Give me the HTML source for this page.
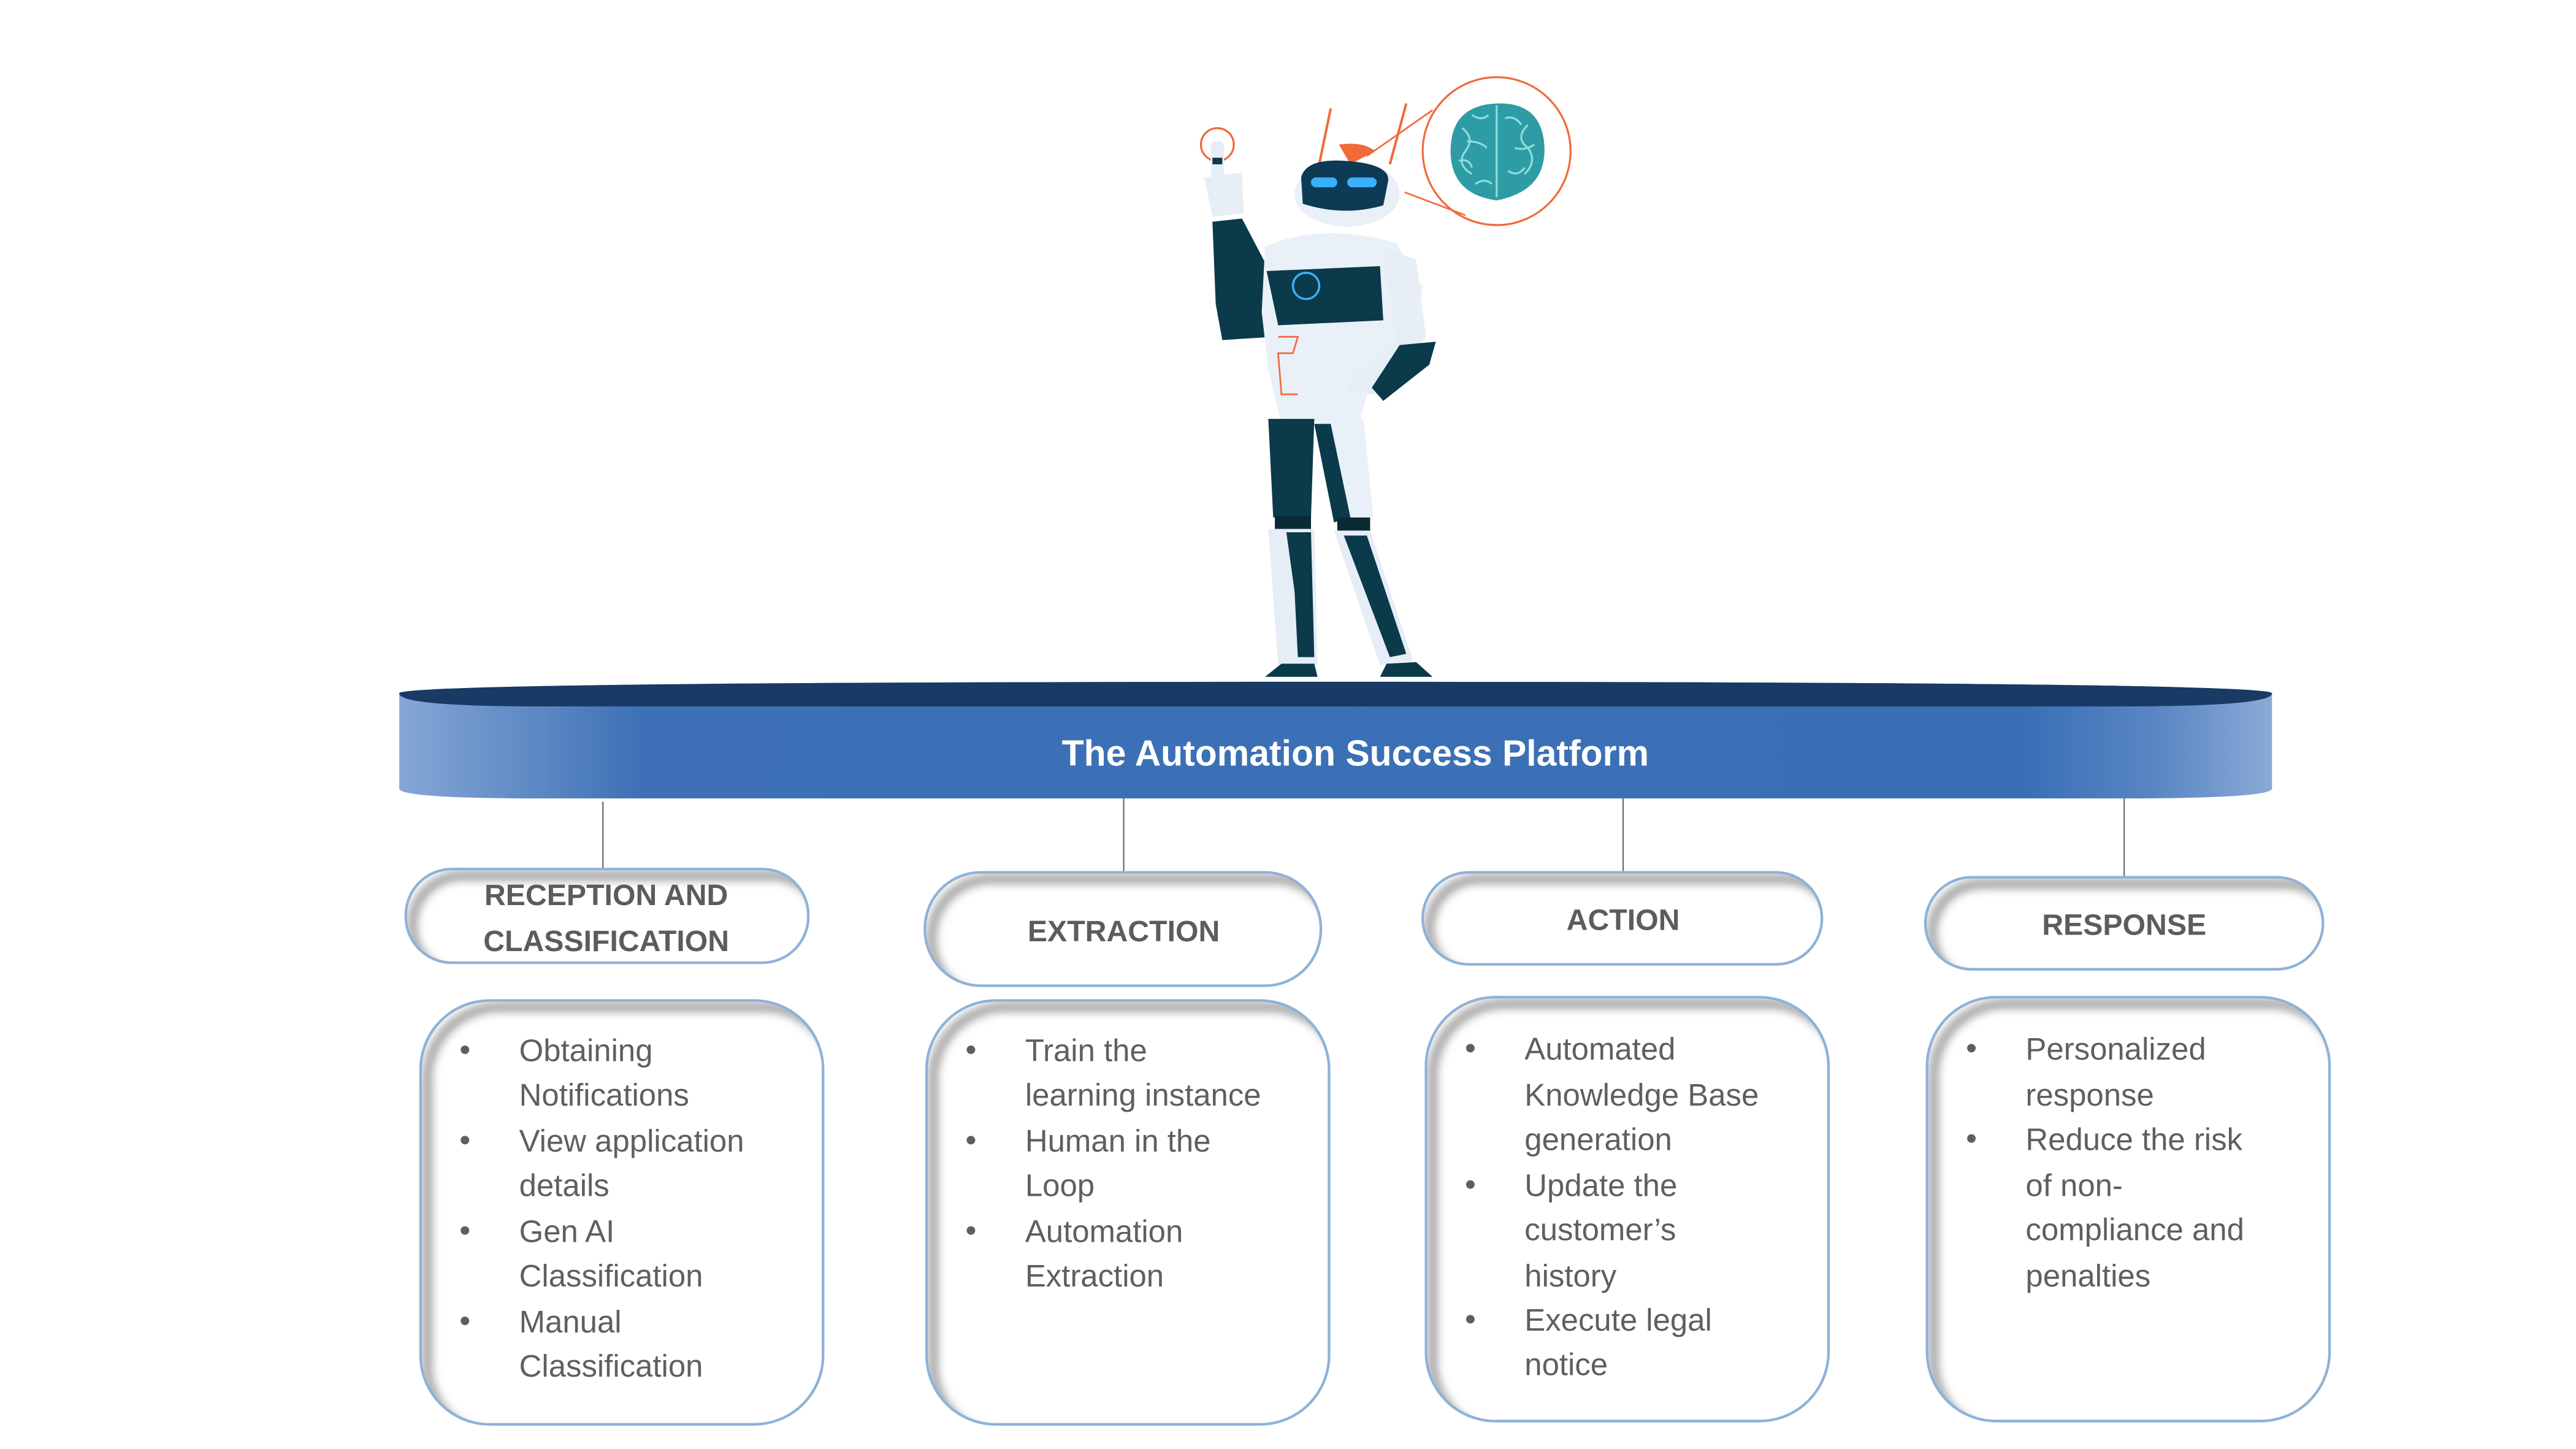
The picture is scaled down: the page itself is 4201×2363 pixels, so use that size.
<!DOCTYPE html>
<html><head><meta charset="utf-8"><style>
html,body{margin:0;padding:0;background:#fff;}
svg{display:block;}
</style></head><body>
<svg width="4201" height="2363" viewBox="0 0 1568 882" xmlns="http://www.w3.org/2000/svg">
<defs>
<linearGradient id="band" x1="0" x2="1" y1="0" y2="0">
<stop offset="0" stop-color="#85a7d5"/>
<stop offset="0.13" stop-color="#3d70b6"/>
<stop offset="0.87" stop-color="#3a6fb6"/>
<stop offset="0.94" stop-color="#5b87c4"/>
<stop offset="1" stop-color="#8aaad6"/>
</linearGradient>
<filter id="blur" x="-10%" y="-10%" width="120%" height="120%"><feGaussianBlur stdDeviation="3"/></filter>
<clipPath id="c1"><rect x="247" y="529" width="245" height="57" rx="28"/></clipPath>
<clipPath id="c2"><rect x="563" y="531" width="241" height="69" rx="34"/></clipPath>
<clipPath id="c3"><rect x="866" y="531" width="243" height="56" rx="28"/></clipPath>
<clipPath id="c4"><rect x="1172" y="534" width="242" height="56" rx="28"/></clipPath>
<clipPath id="b1"><rect x="256" y="609" width="245" height="258" rx="42"/></clipPath>
<clipPath id="b2"><rect x="564" y="609" width="245" height="258" rx="42"/></clipPath>
<clipPath id="b3"><rect x="868" y="607" width="245" height="258" rx="42"/></clipPath>
<clipPath id="b4"><rect x="1173" y="607" width="245" height="258" rx="42"/></clipPath>
</defs>

<path d="M243 422 Q243 415 813 415 Q1383 415 1383 422 L1383 480 Q1383 486 1290 486 L330 486 Q243 486 243 480 Z" fill="url(#band)"/>
<path d="M243 422 Q243 415 813 415 Q1383 415 1383 422 Q1383 430 1290 430 L330 430 Q243 430 243 422 Z" fill="#183a64"/>
<text x="825" y="466" text-anchor="middle" font-family="Liberation Sans, sans-serif" font-weight="bold" font-size="22" fill="#fff">The Automation Success Platform</text>

<g stroke="#666" stroke-width="0.8">
<line x1="367" y1="488" x2="367" y2="529"/>
<line x1="684" y1="486" x2="684" y2="531"/>
<line x1="988" y1="486" x2="988" y2="531"/>
<line x1="1293" y1="486" x2="1293" y2="534"/>
</g>

<g font-family="Liberation Sans, sans-serif" font-weight="bold" font-size="18" fill="#5c5c5c" text-anchor="middle">
<rect x="247" y="529" width="245" height="57" rx="28" fill="#fff"/>
<g clip-path="url(#c1)"><rect x="251" y="533" width="249" height="61" rx="30" fill="none" stroke="#777" stroke-width="4" filter="url(#blur)"/></g>
<rect x="247" y="529" width="245" height="57" rx="28" fill="none" stroke="#8db2d8" stroke-width="1.6"/>
<text x="369" y="551">RECEPTION AND</text><text x="369" y="579">CLASSIFICATION</text>

<rect x="563" y="531" width="241" height="69" rx="34" fill="#fff"/>
<g clip-path="url(#c2)"><rect x="567" y="535" width="245" height="73" rx="36" fill="none" stroke="#777" stroke-width="4" filter="url(#blur)"/></g>
<rect x="563" y="531" width="241" height="69" rx="34" fill="none" stroke="#8db2d8" stroke-width="1.6"/>
<text x="684" y="573">EXTRACTION</text>

<rect x="866" y="531" width="243" height="56" rx="28" fill="#fff"/>
<g clip-path="url(#c3)"><rect x="870" y="535" width="247" height="60" rx="30" fill="none" stroke="#777" stroke-width="4" filter="url(#blur)"/></g>
<rect x="866" y="531" width="243" height="56" rx="28" fill="none" stroke="#8db2d8" stroke-width="1.6"/>
<text x="988" y="566">ACTION</text>

<rect x="1172" y="534" width="242" height="56" rx="28" fill="#fff"/>
<g clip-path="url(#c4)"><rect x="1176" y="538" width="246" height="60" rx="30" fill="none" stroke="#777" stroke-width="4" filter="url(#blur)"/></g>
<rect x="1172" y="534" width="242" height="56" rx="28" fill="none" stroke="#8db2d8" stroke-width="1.6"/>
<text x="1293" y="569">RESPONSE</text>
</g>

<g>
<rect x="256" y="609" width="245" height="258" rx="42" fill="#fff"/>
<g clip-path="url(#b1)"><rect x="260" y="613" width="249" height="262" rx="44" fill="none" stroke="#777" stroke-width="4" filter="url(#blur)"/></g>
<rect x="256" y="609" width="245" height="258" rx="42" fill="none" stroke="#8db2d8" stroke-width="1.6"/>
<rect x="564" y="609" width="245" height="258" rx="42" fill="#fff"/>
<g clip-path="url(#b2)"><rect x="568" y="613" width="249" height="262" rx="44" fill="none" stroke="#777" stroke-width="4" filter="url(#blur)"/></g>
<rect x="564" y="609" width="245" height="258" rx="42" fill="none" stroke="#8db2d8" stroke-width="1.6"/>
<rect x="868" y="607" width="245" height="258" rx="42" fill="#fff"/>
<g clip-path="url(#b3)"><rect x="872" y="611" width="249" height="262" rx="44" fill="none" stroke="#777" stroke-width="4" filter="url(#blur)"/></g>
<rect x="868" y="607" width="245" height="258" rx="42" fill="none" stroke="#8db2d8" stroke-width="1.6"/>
<rect x="1173" y="607" width="245" height="258" rx="42" fill="#fff"/>
<g clip-path="url(#b4)"><rect x="1177" y="611" width="249" height="262" rx="44" fill="none" stroke="#777" stroke-width="4" filter="url(#blur)"/></g>
<rect x="1173" y="607" width="245" height="258" rx="42" fill="none" stroke="#8db2d8" stroke-width="1.6"/>
</g>

<g fill="#5f5f5f">
<circle cx="283" cy="639" r="2.6"/><circle cx="283" cy="694" r="2.6"/><circle cx="283" cy="749" r="2.6"/><circle cx="283" cy="804" r="2.6"/>
<circle cx="591" cy="639" r="2.6"/><circle cx="591" cy="694" r="2.6"/><circle cx="591" cy="749" r="2.6"/>
<circle cx="895" cy="638" r="2.6"/><circle cx="895" cy="721" r="2.6"/><circle cx="895" cy="803" r="2.6"/>
<circle cx="1200" cy="638" r="2.6"/><circle cx="1200" cy="693" r="2.6"/>
</g>
<g font-family="Liberation Sans, sans-serif" font-size="19" fill="#5f5f5f">
<text x="316" y="646">Obtaining</text><text x="316" y="673">Notifications</text>
<text x="316" y="701">View application</text><text x="316" y="728">details</text>
<text x="316" y="756">Gen AI</text><text x="316" y="783">Classification</text>
<text x="316" y="811">Manual</text><text x="316" y="838">Classification</text>
<text x="624" y="646">Train the</text><text x="624" y="673">learning instance</text>
<text x="624" y="701">Human in the</text><text x="624" y="728">Loop</text>
<text x="624" y="756">Automation</text><text x="624" y="783">Extraction</text>
<text x="928" y="645">Automated</text><text x="928" y="673">Knowledge Base</text><text x="928" y="700">generation</text>
<text x="928" y="728">Update the</text><text x="928" y="755">customer’s</text><text x="928" y="783">history</text>
<text x="928" y="810">Execute legal</text><text x="928" y="837">notice</text>
<text x="1233" y="645">Personalized</text><text x="1233" y="673">response</text>
<text x="1233" y="700">Reduce the risk</text><text x="1233" y="728">of non-</text><text x="1233" y="755">compliance and</text><text x="1233" y="783">penalties</text>
</g>

<g>
<circle cx="911" cy="92" r="45" fill="none" stroke="#f06a3a" stroke-width="1.2"/>
<line x1="832" y1="95" x2="872" y2="67" stroke="#f06a3a" stroke-width="1"/>
<line x1="855" y1="117" x2="892" y2="131" stroke="#f06a3a" stroke-width="1"/>
<path d="M911 63 Q938 62 940 88 Q942 116 911 122 Q882 118 883 90 Q884 64 911 63 Z" fill="#2e9ca4"/>
<path d="M911 64 L911 120 M890 78 q8 6 2 14 q-6 8 4 14 M930 76 q-8 8 0 14 q6 8 -2 16 M896 70 q6 4 10 0 M918 104 q6 4 10 -2 M888 98 q6 -2 8 4 M916 72 q6 -2 10 4 M898 112 q6 -4 10 0 M922 90 q6 2 12 -2 M893 86 q8 0 12 4" stroke="#8edcdb" stroke-width="1.2" fill="none"/>
<circle cx="741" cy="88" r="10" fill="none" stroke="#f06a3a" stroke-width="1.2"/>
<line x1="803" y1="100" x2="810" y2="66" stroke="#f06a3a" stroke-width="1.5"/>
<line x1="846" y1="100" x2="856" y2="63" stroke="#f06a3a" stroke-width="1.5"/>
<rect x="737" y="86" width="8" height="22" rx="3" fill="#e6edf6"/>
<rect x="738" y="96" width="6" height="4" fill="#0d3a48"/>
<path d="M733 108 L756 105 L757 130 L738 132 Z" fill="#e8eef6"/>
<path d="M738 135 L756 133 L778 175 L775 205 L744 207 L740 185 Z" fill="#0b3a4a"/>
<path d="M770 150 Q805 135 850 148 L866 175 L860 205 L835 230 L828 255 L780 258 L772 225 L768 190 Z" fill="#eaf0f8"/>
<path d="M771 165 L840 162 L842 195 L778 198 Z" fill="#0b3a4a"/>
<circle cx="795" cy="174" r="8" fill="none" stroke="#3ab0ff" stroke-width="1.3"/>
<path d="M778 205 L790 205 L787 215 L778 215 L780 240 L790 240" stroke="#f06a3a" stroke-width="1" fill="none"/>
<path d="M840 150 L862 158 L868 205 L840 240 L820 240 L822 228 L850 208 L845 175 Z" fill="#e8eef6"/>
<path d="M852 210 L874 208 L870 222 L842 244 L835 236 Z" fill="#0b3a4a"/>
<ellipse cx="820" cy="118" rx="32" ry="20" fill="#eaf0f8"/>
<path d="M815 88 Q830 86 837 92 L822 100 Z" fill="#f06a3a"/>
<path d="M792 108 Q795 96 820 98 Q846 100 845 110 L842 125 Q818 132 793 124 Z" fill="#0d3a55"/>
<rect x="798" y="108" width="16" height="6" rx="3" fill="#3ab0ff"/>
<rect x="820" y="108" width="18" height="6" rx="3" fill="#3ab0ff"/>
<path d="M772 255 L800 255 L798 315 L775 315 Z" fill="#0b3a4a"/>
<path d="M803 255 L830 255 L836 315 L815 318 Z" fill="#eaf0f8"/>
<path d="M800 258 L810 258 L822 315 L812 318 Z" fill="#0b3a4a"/>
<rect x="776" y="314" width="22" height="8" fill="#0a2a35"/>
<rect x="814" y="315" width="20" height="8" fill="#0a2a35"/>
<path d="M772 322 L800 322 L802 405 L778 405 Z" fill="#e6edf6"/>
<path d="M783 324 L798 324 L800 400 L790 400 L788 360 Z" fill="#0b3a4a"/>
<path d="M812 323 L834 323 L860 402 L840 405 Z" fill="#e6edf6"/>
<path d="M818 326 L832 326 L856 398 L846 400 Z" fill="#0b3a4a"/>
<path d="M770 412 L802 412 L800 404 L780 404 Z" fill="#0b3a4a"/>
<path d="M840 412 L872 412 L862 403 L844 404 Z" fill="#0b3a4a"/>
</g>
</svg>
</body></html>
